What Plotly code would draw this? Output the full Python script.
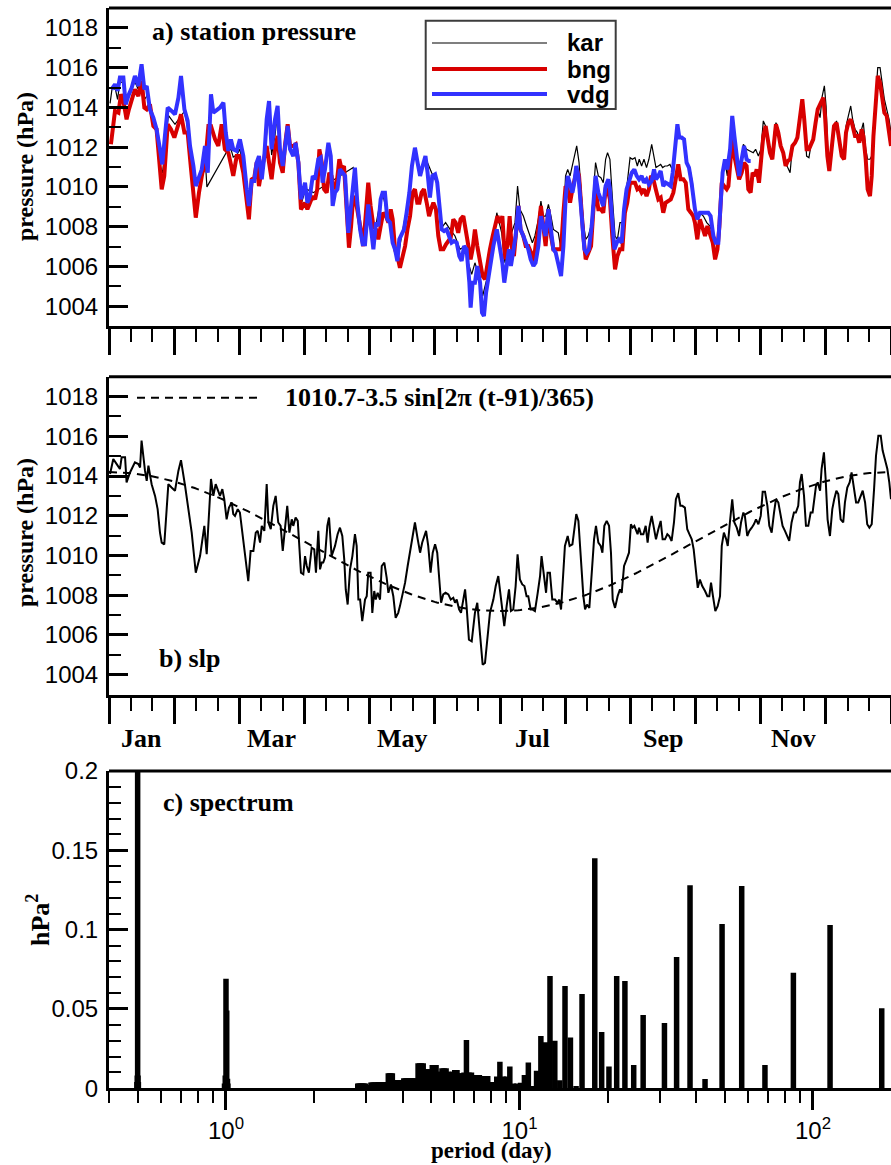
import math
import plotly.graph_objects as go

# ---------------- station pressure (hPa), day of year ----------------
kar_day = [
    0.5, 1.5, 3.0, 4.0, 5.1, 7.0, 8.0, 10.0, 12.0, 13.7,
    15.2, 16.5, 18.0, 19.5, 21.0, 22.5, 24.0, 25.0, 26.0, 27.7,
    30.8, 35.2, 36.7, 38.0, 39.4, 40.5, 42.0, 43.5, 44.8, 45.7,
    55.1, 56.9, 58.0, 59.6, 61.1, 62.7, 64.3, 65.3, 66.6, 67.8,
    68.9, 70.0, 71.3, 72.5, 73.6, 74.7, 75.9, 77.5, 78.7, 79.8,
    81.1, 82.1, 83.4, 84.5, 86.0, 87.1, 88.4, 89.6,
    91.5, 92.3, 95.4, 114.0, 116.4, 117.9, 119.5, 121.0, 122.6, 124.2,
    126.5, 128.0, 130.4, 131.9, 133.5, 135.0, 136.6, 138.9, 141.3, 142.8,
    145.2, 148.0, 150.6, 153.0, 155.3, 157.1, 159.2, 161.5, 163.8, 166.2,
    167.7, 169.3, 170.8, 173.2, 174.4, 176.3, 178.6, 181.0,
    183.3, 184.8, 186.4, 187.9, 189.5, 190.7, 191.8, 193.4, 194.9, 196.5,
    197.6, 198.8, 200.4, 201.6, 202.7, 203.8, 205.1, 206.3, 207.4, 208.5,
    209.7, 211.0, 212.1, 213.1, 214.1, 215.2, 216.3, 217.5, 218.3, 219.4,
    220.3, 221.4, 222.5, 223.7, 225.0, 226.1, 227.1, 228.4, 229.6, 230.7,
    231.8, 232.7, 233.8, 234.9, 236.2, 237.3, 238.5, 239.6, 240.8, 241.9,
    243.2, 244.3, 245.5, 246.6, 247.5, 248.6, 249.7, 250.9, 252.0, 253.3,
    254.4, 255.3, 256.4, 257.5, 258.4, 259.5, 260.6, 261.8, 262.9, 264.2,
    265.3, 266.5, 267.6, 268.8, 270.1, 271.2, 272.3,
    273.5, 274.6, 275.8, 277.4, 279.0, 280.5, 282.1, 283.2, 284.4, 285.5,
    286.4, 287.5, 288.6, 289.9, 290.9, 291.9, 293.0, 294.1, 295.3, 296.1,
    297.6, 299.2, 300.7, 301.8, 303.1, 304.3, 305.4, 306.5, 307.4, 308.5,
    309.6, 310.5, 311.3, 312.4, 313.5, 314.7, 315.8, 316.8, 317.9, 319.0,
    320.2, 321.3, 322.5, 323.6, 324.5, 325.6, 326.7, 327.7, 328.7, 329.8,
    330.8, 331.9, 332.9, 333.9, 334.7, 335.7, 336.5, 337.6, 338.5, 339.6,
    340.7, 342.0, 343.1, 344.0, 345.1, 346.2, 347.1, 348.2, 349.3, 350.2,
    351.3, 352.1, 353.2, 354.1, 355.2, 356.0, 356.8, 357.8, 358.8, 359.9,
    361.0, 361.9, 363.0, 364.1, 365.0,
]
kar_hpa = [
    1014.2, 1015.0, 1014.9, 1014.4, 1015.3, 1015.2, 1014.3, 1014.7, 1015.3, 1014.9,
    1015.8, 1014.4, 1014.6, 1013.9, 1013.3, 1012.5, 1011.0, 1010.7, 1011.8, 1013.6,
    1013.15, 1013.8, 1013.0, 1012.0, 1011.0, 1010.2, 1010.3, 1010.7, 1011.6, 1010.0,
    1011.8, 1011.9, 1011.5, 1011.6, 1011.9, 1011.0, 1009.7, 1008.8, 1010.3, 1010.3,
    1011.2, 1011.0, 1010.6, 1011.5, 1012.7, 1013.8, 1011.6, 1012.6, 1013.8, 1011.6,
    1010.9, 1012.0, 1012.9, 1011.9, 1011.8, 1012.0, 1011.2, 1009.1,
    1009.8, 1009.88, 1009.71, 1010.97, 1009.04, 1007.44, 1007.19, 1009.04, 1008.03, 1007.86,
    1009.20, 1009.54, 1008.37, 1007.86, 1006.86, 1006.52, 1007.53, 1008.87, 1010.88, 1011.81,
    1010.71, 1011.39, 1010.71, 1010.21, 1007.95, 1008.20, 1007.86, 1007.53, 1006.86, 1007.02,
    1006.18, 1005.60, 1006.18, 1005.35, 1004.51, 1005.35, 1006.69, 1008.70,
    1007.69, 1006.18, 1007.53, 1007.69, 1008.20, 1010.04, 1008.87, 1008.53, 1008.03, 1007.53,
    1007.19, 1007.53, 1008.37, 1009.29, 1008.53, 1008.53, 1009.12, 1008.53, 1007.86, 1007.78,
    1007.69, 1006.86, 1008.20, 1010.55, 1010.88, 1010.55, 1011.05, 1011.55, 1012.06, 1011.22,
    1009.88, 1008.20, 1007.36, 1007.53, 1008.03, 1009.71, 1011.22, 1010.55, 1010.46, 1010.21,
    1011.39, 1011.72, 1011.39, 1009.54, 1007.53, 1007.36, 1008.20, 1008.20, 1009.54, 1010.21,
    1011.47, 1011.39, 1011.47, 1011.05, 1011.39, 1011.05, 1011.39, 1010.97, 1011.39, 1012.14,
    1011.55, 1010.97, 1011.05, 1011.13, 1010.97, 1011.05, 1011.05, 1011.13, 1010.88, 1011.89,
    1012.90, 1012.48, 1012.39, 1012.31, 1011.05, 1010.88, 1010.21,
    1008.87, 1008.37, 1008.70, 1008.53, 1008.20, 1008.03, 1007.53, 1007.36, 1007.19, 1009.37,
    1010.88, 1011.22, 1010.55, 1011.89, 1013.23, 1012.22, 1010.88, 1010.55, 1011.39, 1012.14,
    1011.89, 1011.81, 1011.72, 1011.89, 1011.55, 1011.89, 1013.32, 1013.06, 1012.39, 1011.89,
    1011.39, 1012.73, 1013.23, 1012.90, 1012.22, 1011.72, 1011.22, 1010.97, 1010.71, 1012.06,
    1012.22, 1012.39, 1013.57, 1014.41, 1013.57, 1011.55, 1011.47, 1012.14, 1012.39, 1013.40,
    1013.90, 1013.48, 1014.57, 1015.08, 1014.07, 1011.39, 1010.88, 1011.89, 1013.06, 1013.32,
    1012.56, 1011.72, 1011.55, 1013.06, 1013.57, 1014.07, 1013.40, 1012.90, 1012.73, 1012.39,
    1012.90, 1013.23, 1011.89, 1011.39, 1011.39, 1011.55, 1012.73, 1014.24, 1016.00, 1016.00,
    1015.24, 1014.41, 1013.90, 1013.40, 1012.73,
]

bng_day = [
    0.9, 2.0, 2.8, 4.4, 5.6, 6.7, 8.2, 9.3, 10.6, 12.1,
    13.7, 15.2, 16.5, 17.6, 19.1, 20.7, 22.2, 23.3, 24.6, 25.8,
    27.4, 28.9, 30.5, 32.4, 33.6, 35.2, 36.7, 38.3, 39.4, 40.5,
    42.0, 43.6, 44.8, 46.4, 47.6, 49.5, 51.0, 52.6, 54.1, 55.7,
    56.9, 58.0, 59.6, 61.1, 62.7, 64.3, 65.3, 66.6, 67.8, 68.9,
    70.0, 71.3, 72.5, 73.6, 74.7, 75.9, 77.5, 78.7, 79.8, 81.1,
    82.1, 83.4, 84.5, 86.0, 87.1, 88.4, 89.6,
    91.5, 92.6, 93.8, 95.1, 96.2, 97.2, 98.2, 99.3, 100.4, 101.6,
    102.8, 103.9, 105.0, 106.3, 107.5, 108.6, 109.7, 110.9, 112.0, 113.0,
    114.0, 115.3, 116.4, 117.5, 118.7, 120.0, 121.0, 122.1, 123.4, 124.6,
    125.7, 126.8, 128.0, 129.3, 130.4, 131.5, 132.4, 133.5, 134.6, 135.8,
    137.1, 138.2, 139.3, 140.5, 141.7, 142.8, 143.9, 144.9, 145.9, 147.0,
    148.3, 149.4, 150.3, 151.4, 152.6, 153.7, 154.8, 156.1, 157.3, 158.4,
    159.5, 160.7, 161.8, 163.0, 164.1, 165.4, 166.5, 167.7, 168.8, 169.7,
    170.8, 171.9, 173.2, 174.4, 175.5, 176.6, 177.8, 179.1, 180.2, 181.3,
    182.5, 183.6, 184.8, 186.1, 187.0, 187.9, 189.0, 190.0, 191.1, 192.1,
    193.4, 194.5, 195.7, 197.0, 198.1, 199.1, 200.4, 201.6, 202.7, 203.8,
    205.1, 206.3, 207.4, 208.5, 209.7, 211.0, 212.1, 213.1, 214.1, 215.2,
    216.3, 217.5, 218.4, 219.4, 220.3, 221.4, 222.5, 223.7, 225.0, 226.1,
    227.1, 228.4, 229.6, 230.7, 231.8, 232.7, 233.8, 234.9, 236.2, 237.3,
    238.5, 239.6, 240.8, 241.9, 243.2, 244.3, 245.5, 246.6, 247.5, 248.6,
    249.7, 250.9, 252.0, 253.0, 254.1, 255.2, 256.4, 257.5, 258.7, 259.8,
    261.1, 262.2, 263.4, 264.5, 265.7, 266.8, 268.1, 269.2, 270.4, 271.6,
    272.7,
    273.5, 274.6, 275.8, 277.1, 278.2, 279.3, 280.5, 281.8, 282.9, 284.0,
    284.9, 286.0, 287.1, 288.3, 289.1, 289.9, 290.9, 291.9, 293.0, 294.1,
    295.3, 296.4, 297.6, 298.4, 299.5, 300.4, 301.5, 302.3, 303.4, 304.3,
    305.4, 306.5, 307.4, 308.5, 309.6, 310.5, 311.3, 312.4, 313.5, 314.7,
    315.8, 316.8, 317.9, 319.0, 320.2, 321.3, 322.5, 323.6, 324.5, 325.6,
    326.7, 327.7, 328.7, 329.8, 330.8, 331.9, 332.6, 333.4, 334.2, 335.3,
    336.2, 337.3, 338.4, 339.6, 340.7, 342.0, 343.1, 344.0, 345.1, 346.2,
    347.1, 348.2, 349.3, 350.2, 351.3, 352.1, 353.2, 354.1, 355.2, 356.0,
    356.8, 357.8, 358.8, 359.9, 361.0, 361.9, 363.0, 364.1, 365.0,
]
bng_hpa = [
    1012.14, 1013.32, 1013.82, 1013.73, 1014.66, 1014.32, 1013.40, 1013.90, 1014.41, 1014.91,
    1014.57, 1015.33, 1013.99, 1013.90, 1014.15, 1013.06, 1012.90, 1011.39, 1009.88, 1010.55,
    1013.15, 1012.90, 1012.48, 1013.15, 1013.65, 1012.73, 1012.73, 1010.88, 1009.54, 1008.45,
    1009.71, 1010.71, 1011.05, 1013.06, 1013.06, 1012.39, 1012.06, 1013.15, 1011.89, 1011.72,
    1011.13, 1010.55, 1011.55, 1011.55, 1010.71, 1009.37, 1008.37, 1010.38, 1010.46, 1011.22,
    1010.04, 1010.88, 1011.39, 1012.06, 1011.22, 1010.38, 1011.89, 1012.56, 1011.22, 1010.71,
    1012.06, 1013.15, 1012.06, 1012.06, 1012.14, 1011.22, 1008.87,
    1009.20, 1008.87, 1009.20, 1009.54, 1009.37, 1009.88, 1011.89, 1011.22, 1009.88, 1009.71,
    1010.71, 1010.55, 1009.88, 1010.21, 1011.39, 1010.88, 1011.05, 1008.53, 1006.94, 1008.03,
    1009.54, 1009.20, 1008.37, 1007.86, 1007.02, 1008.87, 1010.21, 1009.04, 1008.03, 1007.86,
    1007.36, 1008.03, 1008.70, 1008.53, 1008.20, 1008.87, 1008.37, 1006.86, 1006.52, 1005.93,
    1006.60, 1007.02, 1007.86, 1008.53, 1009.71, 1009.88, 1009.20, 1009.20, 1009.71, 1009.88,
    1009.20, 1008.53, 1008.87, 1009.20, 1008.87, 1007.53, 1006.86, 1006.86, 1007.11, 1007.27,
    1007.44, 1008.37, 1008.20, 1007.69, 1008.37, 1008.53, 1007.86, 1006.86, 1006.35, 1006.86,
    1007.86, 1007.02, 1006.18, 1005.51, 1005.35, 1006.18, 1006.86, 1007.53, 1008.03, 1008.53,
    1008.20, 1008.53, 1006.35, 1007.19, 1008.53, 1007.02, 1006.52, 1008.03, 1009.04, 1007.86,
    1007.53, 1007.02, 1007.02, 1006.69, 1006.18, 1007.02, 1007.86, 1009.04, 1008.20, 1007.02,
    1008.87, 1007.53, 1006.86, 1006.86, 1006.86, 1006.86, 1008.70, 1010.04, 1009.88, 1009.20,
    1009.88, 1010.55, 1010.88, 1010.55, 1009.04, 1007.53, 1006.35, 1006.69, 1007.02, 1008.87,
    1009.88, 1008.87, 1008.87, 1008.70, 1009.88, 1009.88, 1009.37, 1007.53, 1005.85, 1006.52,
    1006.86, 1006.86, 1008.70, 1009.20, 1010.21, 1010.21, 1010.21, 1009.88, 1009.96, 1009.71,
    1009.88, 1009.54, 1009.88, 1010.55, 1010.38, 1009.88, 1009.37, 1009.46, 1008.70, 1009.20,
    1009.29, 1009.37, 1009.71, 1010.55, 1011.13, 1010.38, 1010.38, 1010.21, 1008.87, 1008.70,
    1008.53,
    1008.20, 1007.36, 1008.37, 1007.86, 1007.53, 1008.03, 1007.69, 1007.19, 1006.35, 1006.86,
    1008.03, 1010.21, 1010.04, 1009.88, 1010.04, 1011.39, 1012.39, 1011.55, 1011.05, 1010.38,
    1010.71, 1011.22, 1011.05, 1009.88, 1009.71, 1010.71, 1010.55, 1010.88, 1010.21, 1011.39,
    1012.56, 1013.06, 1012.56, 1011.72, 1011.39, 1012.56, 1013.15, 1012.73, 1012.06, 1011.72,
    1011.05, 1011.30, 1011.39, 1012.06, 1012.22, 1012.48, 1013.40, 1014.41, 1013.40, 1011.89,
    1011.89, 1012.14, 1012.39, 1013.23, 1013.90, 1014.15, 1014.32, 1014.49, 1013.57, 1011.55,
    1010.80, 1011.89, 1013.06, 1013.23, 1012.56, 1011.55, 1011.39, 1012.73, 1013.23, 1013.40,
    1013.06, 1012.56, 1012.56, 1012.22, 1012.90, 1012.56, 1011.39, 1009.88, 1009.54, 1010.55,
    1012.56, 1014.24, 1015.58, 1015.24, 1014.41, 1013.73, 1013.57, 1012.73, 1012.06,
]

vdg_day = [
    1.2, 2.8, 4.0, 5.1, 6.7, 7.8, 9.3, 10.6, 12.1, 13.7,
    15.2, 16.5, 17.6, 19.1, 20.7, 22.2, 23.8, 24.9, 26.1, 27.4,
    29.2, 30.8, 32.4, 33.6, 35.2, 36.7, 37.8, 39.4, 40.5, 42.0,
    43.3, 44.8, 46.1, 47.6, 48.7, 49.8, 51.8, 53.4, 54.5, 55.7,
    56.9, 58.0, 59.6, 61.1, 62.7, 64.3, 65.3, 66.6, 67.8, 68.9,
    70.0, 71.3, 72.5, 73.6, 74.7, 75.9, 77.5, 78.7, 79.8, 81.1,
    82.1, 83.4, 84.5, 86.0, 87.1, 88.4, 89.6,
    91.5, 92.6, 93.8, 95.1, 96.2, 97.7, 98.8, 99.7, 100.8, 102.4,
    103.5, 104.4, 105.5, 106.6, 107.8, 109.1, 110.2, 111.7, 112.8, 114.0,
    114.8, 115.9, 117.2, 118.4, 119.5, 121.0, 122.1, 123.4, 124.6, 125.7,
    126.8, 127.7, 128.8, 129.9, 131.2, 132.4, 133.5, 134.6, 135.5, 136.6,
    137.7, 138.9, 140.2, 141.4, 142.8, 143.9, 145.2, 146.4, 147.7, 148.7,
    149.8, 150.9, 152.2, 153.2, 154.2, 155.3, 156.4, 157.6, 158.7, 159.9,
    161.0, 162.3, 163.5, 164.6, 165.7, 166.9, 168.2, 168.8, 169.7, 170.8,
    171.9, 173.2, 174.1, 175.0, 176.0, 177.1, 178.2, 179.4, 181.0,
    182.5, 183.6, 184.5, 185.6, 186.7, 187.6, 188.7, 189.8, 191.1, 192.1,
    193.4, 194.5, 195.7, 196.8, 198.1, 199.1, 200.4, 201.6, 202.7, 203.8,
    205.1, 206.3, 207.4, 208.5, 209.7, 211.0, 212.1, 213.1, 214.1, 215.2,
    216.3, 217.2, 218.1, 219.1, 220.0, 220.9, 221.9, 222.9, 224.0, 225.3,
    226.2, 227.1, 228.4, 229.6, 230.7, 231.8, 233.1, 233.8, 234.9, 235.9,
    237.0, 238.0, 239.3, 240.4, 241.6, 242.7, 244.0, 245.2, 246.3, 247.4,
    248.6, 249.7, 250.9, 252.0, 253.3, 254.4, 255.3, 256.4, 257.5, 258.7,
    259.8, 261.1, 262.2, 263.1, 264.2, 265.3, 266.2, 267.3, 268.4, 269.6,
    270.7, 271.9,
    273.5, 274.6, 275.8, 277.1, 278.2, 279.7, 280.8, 282.1, 283.2, 284.4,
    285.5, 286.4, 287.5, 288.6, 289.9, 290.9, 291.9, 293.0, 294.1, 295.3,
    296.4, 297.6, 298.7, 299.5,
]
vdg_hpa = [
    1014.91, 1015.16, 1014.83, 1015.50, 1015.50, 1014.15, 1014.66, 1014.99, 1015.58, 1015.08,
    1016.17, 1014.91, 1015.08, 1013.90, 1013.48, 1012.90, 1011.89, 1011.13, 1012.56, 1013.99,
    1013.82, 1013.65, 1014.49, 1015.58, 1013.90, 1013.32, 1012.06, 1011.05, 1010.04, 1010.46,
    1010.88, 1012.06, 1010.71, 1014.66, 1013.73, 1013.82, 1013.99, 1014.24, 1012.73, 1011.81,
    1012.39, 1011.89, 1011.81, 1012.39, 1011.55, 1009.88, 1009.04, 1010.30, 1010.30, 1011.22,
    1011.55, 1010.38, 1011.55, 1013.40, 1014.32, 1011.89, 1013.40, 1014.07, 1011.89, 1011.05,
    1012.06, 1013.06, 1011.89, 1011.55, 1012.22, 1011.22, 1009.37,
    1010.21, 1009.20, 1009.54, 1010.55, 1010.38, 1011.39, 1011.47, 1010.21, 1010.88, 1012.22,
    1011.55, 1009.04, 1009.71, 1009.88, 1010.88, 1010.71, 1010.55, 1007.69, 1009.04, 1010.55,
    1010.97, 1009.20, 1007.86, 1007.11, 1007.11, 1009.12, 1008.20, 1006.86, 1008.20, 1008.03,
    1009.37, 1009.71, 1009.71, 1008.37, 1008.20, 1007.19, 1006.86, 1006.27, 1007.36, 1007.61,
    1007.86, 1008.70, 1009.71, 1011.05, 1011.97, 1011.30, 1010.55, 1011.05, 1011.55, 1010.71,
    1009.46, 1010.55, 1010.63, 1010.21, 1009.20, 1007.86, 1007.78, 1007.86, 1007.53, 1007.19,
    1007.27, 1007.19, 1006.52, 1006.27, 1007.02, 1006.86, 1005.18, 1003.92, 1005.18, 1005.18,
    1006.02, 1005.18, 1003.67, 1003.50, 1004.67, 1005.51, 1006.18, 1007.02, 1007.86,
    1006.86, 1006.18, 1005.18, 1006.18, 1006.86, 1006.02, 1006.86, 1007.53, 1009.04, 1007.86,
    1007.53, 1007.19, 1006.86, 1006.35, 1006.02, 1006.18, 1007.02, 1008.53, 1008.03, 1007.53,
    1008.87, 1007.86, 1006.86, 1006.69, 1006.18, 1005.51, 1007.02, 1009.37, 1010.55, 1010.04,
    1009.71, 1010.21, 1011.05, 1010.55, 1009.37, 1007.86, 1006.86, 1006.69, 1006.86, 1008.03,
    1009.71, 1010.55, 1009.71, 1009.37, 1009.04, 1010.04, 1010.38, 1009.88, 1008.03, 1006.86,
    1007.19, 1007.36, 1007.19, 1008.87, 1009.88, 1010.21, 1010.71, 1010.88, 1010.55, 1010.38,
    1010.55, 1010.21, 1010.38, 1010.13, 1010.30, 1010.88, 1010.38, 1010.55, 1010.80, 1010.04,
    1010.21, 1010.13, 1010.04, 1010.71, 1012.22, 1013.15, 1012.48, 1012.48, 1012.39, 1011.22,
    1010.97, 1010.21,
    1008.87, 1008.37, 1008.70, 1008.70, 1008.70, 1008.70, 1008.53, 1007.53, 1007.19, 1007.19,
    1009.20, 1010.71, 1011.39, 1010.88, 1011.89, 1013.57, 1012.56, 1011.39, 1010.55, 1011.39,
    1012.06, 1011.39, 1011.30, 1011.30,
]

# ---------------- sea level pressure (hPa) ----------------
slp_day = [
    0.5, 2.0, 3.6, 5.1, 5.9, 7.5, 8.2, 9.8, 12.1, 13.7,
    14.5, 15.2, 16.8, 17.6, 18.4, 19.9, 21.5, 22.7, 23.8, 24.6,
    25.8, 26.9, 27.7, 29.2, 30.8, 32.4, 33.6, 35.5, 37.0, 38.6,
    40.5, 42.5, 44.5, 45.6, 47.6, 48.7, 49.8, 51.0, 51.8, 52.9,
    53.8, 54.9, 56.0, 57.3, 58.0, 58.8, 60.1, 61.1, 62.7, 63.9,
    65.0, 66.1, 67.4, 68.5, 69.4, 70.5, 71.3, 72.5, 73.6, 74.4,
    75.5, 76.7, 77.8, 79.0, 80.1, 81.1, 82.1, 83.2, 84.2, 85.3,
    86.0, 87.1, 88.1, 88.8, 89.6, 90.7, 91.5, 92.3, 93.3, 94.6,
    95.8, 96.6, 97.7, 98.5, 99.3, 100.0, 100.8, 101.9, 102.7, 103.9,
    105.5, 106.7, 107.8, 108.9, 109.8, 110.5, 111.4, 112.5, 113.6, 114.8,
    115.6, 116.4, 117.2, 118.2, 119.5, 120.3, 121.0, 122.1, 122.9, 123.8,
    124.5, 125.4, 126.5, 127.3, 128.5, 129.6, 130.4, 131.6, 132.7, 133.8,
    135.0, 135.8, 137.1, 138.2, 139.4, 140.5, 141.6, 142.8, 144.1, 145.2,
    146.2, 147.2, 148.0, 149.0, 150.1, 151.1, 152.2, 153.2, 154.2, 155.0,
    156.0, 157.1, 158.4, 159.5, 160.7, 161.5, 162.3, 163.4, 164.3, 165.4,
    166.2, 166.9, 168.0, 169.3, 170.8, 171.9, 173.2, 174.4, 175.5, 176.7,
    177.8, 179.4, 180.5, 181.7,
    183.0, 184.5, 185.6, 186.7, 187.6, 188.7, 189.8, 190.7, 191.8, 192.9,
    193.9, 194.9, 195.7, 196.8, 197.6, 198.8, 200.1, 201.2, 201.9, 203.0,
    204.0, 204.7, 205.8, 206.9, 208.2, 209.3, 210.2, 211.0, 212.1, 212.8,
    214.1, 215.0, 216.3, 217.2, 218.1, 219.1, 219.8, 220.6, 221.4, 222.2,
    223.1, 224.2, 225.3, 226.4, 227.3, 228.4, 229.5, 230.3, 231.2, 232.3,
    233.4, 234.3, 235.1, 236.2, 237.4, 238.5, 239.3, 240.4, 241.6, 242.7,
    243.6, 244.4, 245.2, 245.8, 246.7, 247.4, 248.3, 249.4, 250.5, 251.4,
    252.2, 253.3, 254.4, 255.3, 256.4, 257.5, 258.4, 259.5, 260.6, 261.5,
    262.6, 263.7, 264.6, 265.7, 266.7, 267.6, 268.8, 269.9, 270.9, 272.0,
    272.9, 273.8, 274.8, 275.8, 276.9, 278.2, 279.3, 280.2, 281.0, 281.9,
    283.0, 284.1, 285.2, 286.0, 287.0, 288.1, 288.8, 289.8, 290.9, 291.9,
    293.0, 294.1, 295.0, 296.1, 296.8, 297.9, 298.9, 300.0, 301.0, 302.0,
    303.1, 304.2, 305.1, 306.2, 307.3, 308.2, 309.3, 310.4, 311.3, 312.4,
    313.5, 314.4, 315.5, 316.6, 317.5, 318.6, 319.7, 320.6, 321.7, 322.5,
    323.3, 324.4, 325.3, 326.4, 327.5, 328.4, 329.2, 330.0, 330.8, 331.9,
    332.6, 333.7, 334.5, 335.4, 336.5, 337.6, 338.5, 339.5, 340.4, 341.5,
    342.7, 343.5, 344.6, 345.7, 346.6, 347.7, 348.7, 349.7, 350.8, 351.8,
    352.9, 353.9, 354.9, 356.0, 357.1, 358.0, 359.1, 360.2, 361.1, 362.2,
    363.3, 364.2, 365.0,
]
slp_hpa = [
    1014.10, 1014.86, 1014.60, 1014.35, 1014.94, 1014.94, 1013.68, 1014.18, 1014.69, 1014.60,
    1014.43, 1015.78, 1014.27, 1013.76, 1014.52, 1013.59, 1013.00, 1012.33, 1011.15, 1010.65,
    1010.56, 1012.33, 1013.59, 1013.42, 1013.26, 1014.27, 1014.80, 1013.51, 1012.33, 1011.15,
    1009.13, 1009.97, 1011.49, 1010.06, 1013.85, 1013.00, 1013.59, 1013.26, 1013.00, 1013.34,
    1012.83, 1011.82, 1012.41, 1012.67, 1012.08, 1011.99, 1012.33, 1012.16, 1010.81, 1009.80,
    1008.71, 1010.23, 1010.23, 1011.15, 1011.24, 1010.65, 1011.49, 1011.24, 1013.59, 1011.66,
    1011.32, 1012.50, 1013.00, 1011.66, 1011.49, 1010.23, 1011.49, 1012.50, 1011.15, 1011.82,
    1011.49, 1011.91, 1011.74, 1010.65, 1009.13, 1009.05, 1009.97, 1009.47, 1009.13, 1010.39,
    1010.31, 1009.13, 1011.24, 1009.30, 1009.64, 1009.64, 1009.89, 1011.49, 1011.91, 1009.97,
    1010.48, 1011.07, 1011.40, 1010.98, 1009.80, 1008.29, 1007.53, 1009.30, 1009.97, 1011.07,
    1010.48, 1007.78, 1007.78, 1006.69, 1007.78, 1007.95, 1009.13, 1009.13, 1007.11, 1008.21,
    1007.78, 1008.12, 1007.78, 1009.47, 1009.64, 1008.88, 1008.12, 1008.54, 1007.95, 1006.86,
    1007.11, 1007.45, 1008.12, 1008.63, 1009.47, 1010.14, 1010.98, 1011.66, 1010.81, 1010.14,
    1010.65, 1010.98, 1011.24, 1010.48, 1009.13, 1010.14, 1010.56, 1010.14, 1008.79, 1007.62,
    1008.04, 1008.12, 1008.04, 1007.78, 1007.87, 1007.62, 1007.78, 1007.28, 1007.11, 1007.78,
    1008.29, 1007.45, 1005.76, 1005.68, 1007.11, 1007.62, 1006.10, 1004.50, 1004.59, 1005.93,
    1007.11, 1007.78, 1008.46, 1008.96,
    1007.78, 1006.44, 1007.45, 1008.29, 1007.20, 1007.28, 1008.46, 1010.06, 1008.79, 1008.54,
    1008.46, 1007.95, 1007.95, 1007.28, 1007.28, 1007.20, 1008.12, 1008.96, 1009.97, 1009.13,
    1008.12, 1009.13, 1009.13, 1007.78, 1007.78, 1007.62, 1007.78, 1007.28, 1008.96, 1010.48,
    1010.98, 1010.48, 1010.56, 1011.32, 1012.08, 1011.74, 1010.48, 1009.13, 1007.95, 1007.28,
    1007.53, 1007.36, 1008.96, 1010.81, 1011.49, 1010.65, 1010.48, 1010.14, 1011.49, 1011.74,
    1011.49, 1010.14, 1007.78, 1007.36, 1007.95, 1008.29, 1008.12, 1009.47, 1009.80, 1010.14,
    1011.57, 1011.40, 1011.49, 1011.32, 1011.07, 1011.40, 1011.07, 1011.07, 1011.49, 1010.65,
    1011.40, 1011.99, 1011.40, 1010.81, 1011.32, 1011.74, 1010.81, 1010.81, 1011.07, 1010.98,
    1010.73, 1011.66, 1012.83, 1013.14, 1012.50, 1012.50, 1012.41, 1011.32, 1011.07, 1010.81,
    1010.31, 1009.30, 1008.37, 1008.79, 1008.46, 1008.21, 1007.95, 1007.95, 1008.63, 1007.95,
    1007.20, 1007.45, 1007.95, 1010.48, 1011.15, 1010.81, 1010.48, 1011.66, 1012.83, 1011.66,
    1011.40, 1010.98, 1011.66, 1012.16, 1011.99, 1010.98, 1011.24, 1011.40, 1011.57, 1011.82,
    1011.57, 1011.99, 1013.21, 1013.21, 1012.50, 1011.49, 1011.15, 1012.16, 1012.83, 1012.67,
    1011.99, 1011.49, 1011.24, 1010.98, 1010.73, 1011.66, 1012.16, 1012.16, 1012.50, 1013.68,
    1014.10, 1013.00, 1011.49, 1011.49, 1012.16, 1012.16, 1013.00, 1013.51, 1013.68, 1013.26,
    1014.35, 1015.19, 1013.85, 1011.82, 1010.98, 1012.33, 1012.83, 1013.26, 1013.09, 1011.82,
    1011.66, 1012.67, 1013.42, 1013.68, 1014.18, 1013.34, 1012.67, 1012.67, 1013.00, 1013.26,
    1012.67, 1011.57, 1011.40, 1011.57, 1013.34, 1015.02, 1016.03, 1016.03, 1015.28, 1014.86,
    1014.35, 1013.68, 1012.83,
]

# annual fit shown in panel b: mean - amp * sin(2*pi*(t - lag)/year)
fit_mean, fit_amp, fit_lag, fit_year = 1010.7, 3.5, 91, 365

# ---------------- spectrum: harmonic index of a 343-day record ----------------
record_days = 343
spec_k = [
    2, 3, 4, 5, 6, 7, 8, 9, 10, 11,
    13, 14, 15, 16, 17, 18, 19, 21, 22, 23,
    24, 25, 26, 27, 28, 29, 30, 31, 32, 33,
    34, 35, 36, 37, 38, 39, 40, 41, 42, 43,
    44, 45, 46, 47, 48, 49, 50, 51, 52, 53,
    54, 55, 56, 57, 58, 59, 60, 61, 62, 63,
    64, 65, 66, 67, 68, 69, 70, 71, 72, 73,
    74, 75, 76, 77, 78, 79, 80, 81, 82, 83,
    84, 85, 86, 87, 88, 89, 90, 91, 92, 93,
    94, 95, 96, 97, 98, 99, 100, 101, 102, 103,
    104, 105, 106, 107, 108, 109, 110, 111, 112, 113,
    114, 115, 116, 117, 118, 119, 120, 121, 122,
    338, 339, 341, 343, 345, 347,
    682, 684, 686, 688, 690,
]
spec_power = [
    0.0504, 0.1029, 0.0729, 0.0147, 0.1275, 0.1036, 0.0059, 0.1280, 0.0828, 0.0412,
    0.0462, 0.0147, 0.0676, 0.0708, 0.0137, 0.0355, 0.1450, 0.0595, 0.0015, 0.0320,
    0.0645, 0.0050, 0.0300, 0.0708, 0.0290, 0.0330, 0.0110, 0.0015, 0.0162, 0.0084,
    0.0035, 0.0030, 0.0030, 0.0137, 0.0075, 0.0075, 0.0168, 0.0074, 0.0040, 0.0040,
    0.0078, 0.0078, 0.0078, 0.0084, 0.0084, 0.0084, 0.0099, 0.0099, 0.0305, 0.0099,
    0.0095, 0.0095, 0.0116, 0.0116, 0.0105, 0.0105, 0.0105, 0.0126, 0.0126, 0.0126,
    0.0105, 0.0105, 0.0147, 0.0147, 0.0147, 0.0120, 0.0120, 0.0120, 0.0120, 0.0158,
    0.0158, 0.0158, 0.0158, 0.0060, 0.0063, 0.0063, 0.0063, 0.0063, 0.0063, 0.0063,
    0.0063, 0.0063, 0.0050, 0.0050, 0.0050, 0.0050, 0.0050, 0.0050, 0.0050, 0.0095,
    0.0095, 0.0095, 0.0095, 0.0040, 0.0040, 0.0040, 0.0040, 0.0040, 0.0040, 0.0040,
    0.0040, 0.0036, 0.0036, 0.0036, 0.0036, 0.0036, 0.0036, 0.0020, 0.0020, 0.0020,
    0.0020, 0.0030, 0.0030, 0.0030, 0.0030, 0.0030, 0.0030, 0.0030, 0.0030,
    0.0030, 0.0060, 0.0490, 0.0690, 0.0080, 0.0030,
    0.0040, 0.0080, 0.6000, 0.0080, 0.0040,
]

month_names = ["Jan", "Mar", "May", "Jul", "Sep", "Nov"]
month_index = [0, 2, 4, 6, 8, 10]

RED = "rgb(216,0,0)"
BLUE = "rgb(50,50,255)"
SANS = "Liberation Sans, Arial, sans-serif"
SERIF = "Liberation Serif, Times New Roman, serif"

fig = go.Figure()

# panel a
fig.add_trace(go.Scatter(x=kar_day, y=kar_hpa, mode="lines", line=dict(color="black", width=1.2),
                         xaxis="x", yaxis="y", name="kar"))
fig.add_trace(go.Scatter(x=bng_day, y=bng_hpa, mode="lines", line=dict(color=RED, width=4),
                         xaxis="x", yaxis="y", name="bng"))
fig.add_trace(go.Scatter(x=vdg_day, y=vdg_hpa, mode="lines", line=dict(color=BLUE, width=4),
                         xaxis="x", yaxis="y", name="vdg"))

# panel b
fit_t = list(range(0, 366))
fit_p = [fit_mean - fit_amp * math.sin(2 * math.pi * (t - fit_lag) / fit_year) for t in fit_t]
fig.add_trace(go.Scatter(x=fit_t, y=fit_p, mode="lines",
                         line=dict(color="black", width=2, dash="8px,6px"),
                         xaxis="x2", yaxis="y2"))
fig.add_trace(go.Scatter(x=slp_day, y=slp_hpa, mode="lines", line=dict(color="black", width=2),
                         xaxis="x2", yaxis="y2"))

# panel c: one vertical bar per harmonic
bx, by = [], []
for k, p in zip(spec_k, spec_power):
    period = record_days / k
    bx += [period, period, None]
    by += [0, p, None]
fig.add_trace(go.Scatter(x=bx, y=by, mode="lines", line=dict(color="black", width=5.5),
                         xaxis="x3", yaxis="y3"))

H = 1165.0
def py(pix):
    return 1 - pix / H

def px(pix):
    return (pix - 109) / 782.0

month_len = 365 / 12.0

day_axis = dict(range=[0, 365], showline=True, linewidth=3, linecolor="black",
                ticks="outside", tickmode="linear", tick0=0, dtick=month_len,
                ticklen=26, tickwidth=3, tickcolor="black", showticklabels=False,
                showgrid=False, zeroline=False, automargin=False,
                minor=dict(ticks="outside", tickmode="linear", tick0=0, dtick=month_len / 3,
                           ticklen=13, tickwidth=1.5, tickcolor="black"))
p_axis = dict(range=[1003, 1019], showline=True, linewidth=3, linecolor="black",
              ticks="inside", tickmode="linear", tick0=1004, dtick=2,
              ticklen=19, tickwidth=3, tickcolor="black", showgrid=False, zeroline=False,
              automargin=False,
              tickfont=dict(family=SANS, size=24, color="black"), ticklabelstandoff=3,
              minor=dict(ticks="inside", tickmode="linear", tick0=1003, dtick=1,
                         ticklen=12, tickwidth=1.5, tickcolor="black"))

minor_periods = [0.4, 0.5, 0.6, 0.7, 0.8, 0.9, 2, 3, 4, 5, 6, 7, 8, 9,
                 20, 30, 40, 50, 60, 70, 80, 90]

fig.update_layout(
    width=891, height=1165,
    margin=dict(l=109, r=0, t=0, b=0, autoexpand=False),
    paper_bgcolor="white", plot_bgcolor="white",
    showlegend=False,
    xaxis=dict(domain=[0, 1], anchor="y", **day_axis),
    yaxis=dict(domain=[py(326), py(8)], anchor="x", **p_axis),
    xaxis2=dict(domain=[0, 1], anchor="y2", **day_axis),
    yaxis2=dict(domain=[py(694.5), py(376.7)], anchor="x2", **p_axis),
    xaxis3=dict(domain=[0, 1], anchor="y3", type="log", range=[-0.3986, 2.2658],
                showline=True, linewidth=3, linecolor="black",
                ticks="outside", tickmode="array", tickvals=[1, 10, 100],
                ticktext=["10<sup>0</sup>", "10<sup>1</sup>", "10<sup>2</sup>"],
                ticklen=19, tickwidth=3, tickcolor="black", showgrid=False, zeroline=False,
                automargin=False, ticklabelstandoff=0,
                tickfont=dict(family=SANS, size=24, color="black"),
                minor=dict(ticks="outside", tickmode="array", tickvals=minor_periods,
                           ticklen=12, tickwidth=1.5, tickcolor="black")),
    yaxis3=dict(domain=[py(1088.3), py(771)], anchor="x3", range=[0, 0.2],
                showline=True, linewidth=3, linecolor="black",
                ticks="inside", tickmode="linear", tick0=0, dtick=0.05,
                ticklen=19, tickwidth=3, tickcolor="black", showgrid=False, zeroline=False,
                automargin=False,
                tickfont=dict(family=SANS, size=24, color="black"), ticklabelstandoff=3,
                minor=dict(ticks="inside", tickmode="linear", tick0=0, dtick=0.01,
                           ticklen=12, tickwidth=1.5, tickcolor="black")),
)

shapes = []
# top frame of each panel
for xr, yr in [("x", "y"), ("x2", "y2"), ("x3", "y3")]:
    shapes.append(dict(type="line", xref=xr + " domain", yref=yr + " domain",
                       x0=0, x1=1, y0=1, y1=1, line=dict(color="black", width=3)))
# legend box of panel a
shapes.append(dict(type="rect", xref="paper", yref="paper",
                   x0=px(425.7), x1=px(615.7), y0=py(109), y1=py(20.7),
                   line=dict(color="rgb(60,60,60)", width=2), fillcolor="white", layer="above"))
legend_rows = [("kar", "black", 1.2, 43), ("bng", RED, 4, 69), ("vdg", BLUE, 4, 94)]
annotations = []
for name, col, w, ypix in legend_rows:
    shapes.append(dict(type="line", xref="paper", yref="paper",
                       x0=px(432), x1=px(547), y0=py(ypix), y1=py(ypix),
                       line=dict(color=col, width=w), layer="above"))
    annotations.append(dict(text="<b>%s</b>" % name, xref="paper", yref="paper",
                            x=px(565), y=py(ypix), xanchor="left", yanchor="middle",
                            showarrow=False, font=dict(family=SANS, size=24, color="black")))
# dashed key of the fit in panel b
shapes.append(dict(type="line", xref="paper", yref="paper",
                   x0=px(137), x1=px(258), y0=py(397.7), y1=py(397.7),
                   line=dict(color="black", width=2, dash="8px,6px")))
fig.update_layout(shapes=shapes)

serif_b = dict(family=SERIF, size=26, color="black")
annotations += [
    dict(text="<b>a) station pressure</b>", xref="paper", yref="paper", x=px(150), y=py(31),
         xanchor="left", yanchor="middle", showarrow=False, font=serif_b),
    dict(text="<b>1010.7-3.5 sin[2\u03c0 (t-91)/365)</b>", xref="paper", yref="paper",
         x=px(283), y=py(398), xanchor="left", yanchor="middle", showarrow=False, font=serif_b),
    dict(text="<b>b) slp</b>", xref="paper", yref="paper", x=px(157), y=py(658),
         xanchor="left", yanchor="middle", showarrow=False, font=serif_b),
    dict(text="<b>c) spectrum</b>", xref="paper", yref="paper", x=px(161), y=py(802),
         xanchor="left", yanchor="middle", showarrow=False, font=serif_b),
    dict(text="<b>pressure (hPa)</b>", xref="paper", yref="paper", x=px(25), y=py(167),
         xanchor="center", yanchor="middle", textangle=-90, showarrow=False,
         font=dict(family=SERIF, size=24, color="black")),
    dict(text="<b>pressure (hPa)</b>", xref="paper", yref="paper", x=px(25), y=py(533),
         xanchor="center", yanchor="middle", textangle=-90, showarrow=False,
         font=dict(family=SERIF, size=24, color="black")),
    dict(text="<b>hPa<sup>2</sup></b>", xref="paper", yref="paper", x=px(38), y=py(920),
         xanchor="center", yanchor="middle", textangle=-90, showarrow=False,
         font=dict(family=SERIF, size=26, color="black")),
    dict(text="<b>period (day)</b>", xref="paper", yref="paper", x=px(491), y=py(1150),
         xanchor="center", yanchor="middle", showarrow=False,
         font=dict(family=SERIF, size=23, color="black")),
]
for name, m in zip(month_names, month_index):
    annotations.append(dict(text="<b>%s</b>" % name, xref="x2", yref="paper",
                            x=(m + 0.5) * month_len, y=py(738), xanchor="center",
                            yanchor="middle", showarrow=False, font=serif_b))
fig.update_layout(annotations=annotations)

fig.write_html("out.html")
